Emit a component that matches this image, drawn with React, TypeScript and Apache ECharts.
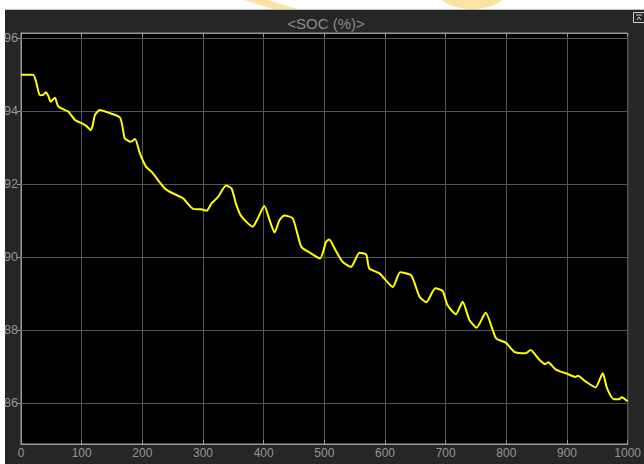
import React, { useEffect, useRef } from "react";
import * as echarts from "echarts";

const timeSteps = [0, 20, 25, 31, 37, 41, 45, 49, 53, 56, 61, 70, 78, 89, 100, 108, 115, 118, 122, 130, 144, 163, 167, 171, 181, 188, 196, 206, 215, 237, 245, 267, 284, 297, 306, 314, 325, 338, 347, 355, 363, 382, 390, 401, 410, 418, 426, 434, 448, 462, 476, 493, 503, 508, 518, 530, 544, 558, 569, 574, 591, 613, 625, 643, 657, 668, 683, 695, 703, 717, 728, 739, 751, 766, 783, 799, 813, 832, 840, 854, 864, 869, 881, 901, 914, 918, 931, 947, 959, 966, 977, 986, 990, 1000];
const socValues = [95.0, 95.0, 94.8, 94.44, 94.45, 94.52, 94.42, 94.26, 94.33, 94.37, 94.14, 94.05, 93.99, 93.76, 93.67, 93.59, 93.48, 93.6, 93.9, 94.03, 93.96, 93.83, 93.6, 93.26, 93.16, 93.24, 92.84, 92.48, 92.34, 91.88, 91.79, 91.61, 91.32, 91.31, 91.27, 91.47, 91.65, 91.96, 91.88, 91.43, 91.12, 90.83, 91.05, 91.4, 91.0, 90.67, 91.01, 91.14, 91.06, 90.28, 90.12, 89.96, 90.42, 90.48, 90.2, 89.87, 89.73, 90.12, 90.07, 89.69, 89.55, 89.18, 89.58, 89.5, 88.91, 88.76, 89.14, 89.07, 88.68, 88.43, 88.77, 88.28, 88.06, 88.47, 87.77, 87.65, 87.4, 87.36, 87.45, 87.19, 87.06, 87.11, 86.92, 86.79, 86.71, 86.74, 86.58, 86.42, 86.81, 86.4, 86.1, 86.1, 86.15, 86.04];
const xTicks = [0, 100, 200, 300, 400, 500, 600, 700, 800, 900, 1000];
const yTicks = [86, 88, 90, 92, 94, 96];
const titleText = "<SOC (%)>";

const FONT = "Liberation Sans, Arial, sans-serif";
const BG = "#262626";
const FRAME = "#9a9a9a";
const GRID = "#555555";
const LABEL = "#959595";

export default function App() {
  const ref = useRef<HTMLDivElement>(null);
  useEffect(() => {
    if (!ref.current) return;
    const chart = echarts.init(ref.current, null, { renderer: "svg" });
    const data = timeSteps.map((t, i) => [t, socValues[i]]);
    const yMin = 84.87;
    const yMax = 96.145;
    const yAxisBase = {
      type: "value", min: yMin, max: yMax,
      axisLine: { show: true, lineStyle: { color: FRAME } },
      axisTick: { show: true, inside: true, length: 4, customValues: yTicks, lineStyle: { color: FRAME } },
      splitLine: { show: false },
    };
    chart.setOption({
      animation: false,
      backgroundColor: "#ffffff",
      textStyle: { fontFamily: FONT },
      graphic: [
        { type: "polygon", silent: true, z: -20, shape: { points: [[244, 0], [268, 0], [300, 10], [276, 10]] }, style: { fill: "#fbe3a4" } },
        { type: "ellipse", silent: true, z: -20, shape: { cx: 472, cy: -8, rx: 34, ry: 17 }, style: { fill: "#fbe3a4" } },
        { type: "rect", silent: true, z: -10, shape: { x: 5, y: 9, width: 639, height: 1 }, style: { fill: "#bdbdbd" } },
        { type: "rect", silent: true, z: -10, shape: { x: 5, y: 10, width: 639, height: 454 }, style: { fill: BG } },
        { type: "rect", silent: true, z: 10, shape: { x: 633.5, y: 12.5, width: 11, height: 10 }, style: { fill: "none", stroke: "#cfcfcf", lineWidth: 1 } },
        { type: "line", silent: true, z: 10, shape: { x1: 636, y1: 15, x2: 642, y2: 15 }, style: { stroke: "#cfcfcf", lineWidth: 1 } },
        { type: "polyline", silent: true, z: 10, shape: { points: [[637, 20], [639, 17], [641, 20]] }, style: { fill: "none", stroke: "#cfcfcf", lineWidth: 1 } },
        { type: "text", silent: true, z: 10, style: { text: titleText, x: 326, y: 23, align: "center", verticalAlign: "middle", fill: "#8c8c8c", font: `15px ${FONT}` } },
      ],
      grid: { left: 21, right: 15.3, top: 33, bottom: 20, show: true, backgroundColor: "#000000", borderColor: FRAME, borderWidth: 1 },
      xAxis: [
        {
          type: "value", min: 0, max: 1000, interval: 100, position: "bottom",
          axisLine: { show: true, lineStyle: { color: FRAME } },
          axisTick: { show: true, inside: true, length: 4, lineStyle: { color: FRAME } },
          axisLabel: { color: LABEL, fontSize: 12, fontFamily: FONT, margin: 3, customValues: xTicks, formatter: (v: number) => String(v) },
          splitLine: { show: true, lineStyle: { color: GRID, width: 1 } },
        },
        {
          type: "value", min: 0, max: 1000, interval: 100, position: "top",
          axisLine: { show: true, lineStyle: { color: FRAME } },
          axisTick: { show: true, inside: true, length: 4, lineStyle: { color: FRAME } },
          axisLabel: { show: false },
          splitLine: { show: false },
        },
      ],
      yAxis: [
        {
          ...yAxisBase, position: "left",
          axisLabel: { color: LABEL, fontSize: 12.5, fontFamily: FONT, margin: 3, customValues: yTicks, formatter: (v: number) => String(v) },
        },
        {
          ...yAxisBase, position: "right",
          axisLabel: { show: false },
        },
      ],
      series: [
        {
          type: "line", xAxisIndex: 0, yAxisIndex: 0, data, showSymbol: false, smooth: 0.2,
          lineStyle: { color: "#ffff00", width: 2 },
          markLine: {
            silent: true, symbol: "none", label: { show: false },
            lineStyle: { color: GRID, type: "solid", width: 1 },
            data: yTicks.map((v) => ({ yAxis: v })),
            z: 1,
          },
          z: 5,
        },
      ],
    });
    return () => chart.dispose();
  }, []);
  return (
    <div style={{ position: "absolute", left: 0, top: 0, width: 644, height: 464 }}>
      <div ref={ref} style={{ width: 644, height: 464 }} />
    </div>
  );
}
